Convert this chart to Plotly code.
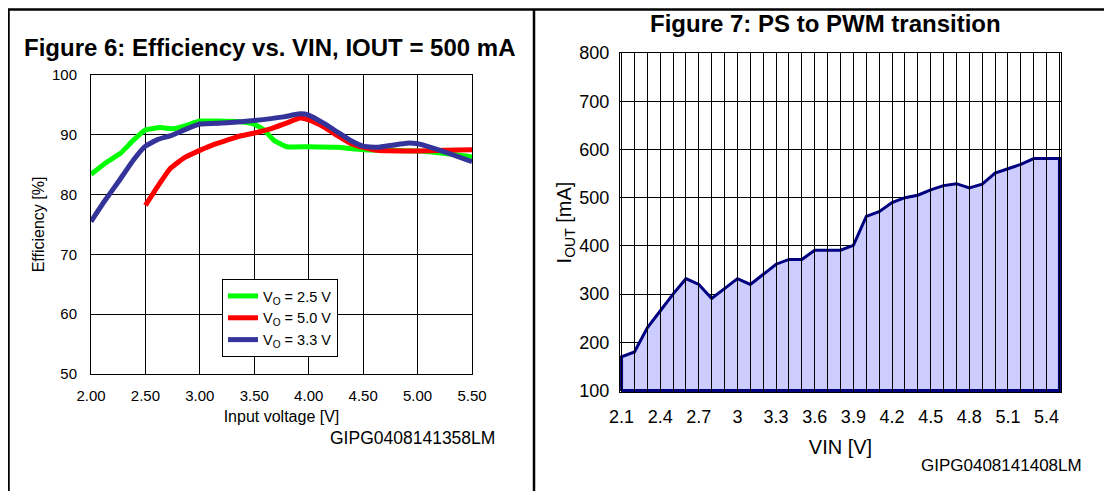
import plotly.graph_objects as go

# ---------------- Figure 6 data: Efficiency vs VIN ----------------
VIN_25 = [2.00, 2.15, 2.27, 2.39, 2.50, 2.64, 2.76, 2.88, 3.00, 3.16, 3.37, 3.50,
          3.59, 3.68, 3.80, 4.00, 4.26, 4.50, 4.78, 5.00, 5.24, 5.50]
EFF_25 = [83.4, 85.5, 86.9, 89.1, 90.8, 91.2, 91.0, 91.6, 92.3, 92.3, 92.2, 91.8,
          90.8, 89.1, 88.0, 88.0, 87.9, 87.5, 87.4, 87.3, 86.9, 86.3]

VIN_50 = [2.50, 2.61, 2.73, 2.87, 3.00, 3.13, 3.25, 3.37, 3.50, 3.65, 3.80, 3.92,
          4.00, 4.14, 4.26, 4.38, 4.50, 4.63, 5.00, 5.24, 5.50]
EFF_50 = [78.2, 81.3, 84.4, 86.3, 87.4, 88.4, 89.1, 89.8, 90.3, 91.0, 92.0, 92.8,
          92.5, 91.3, 89.9, 88.6, 87.9, 87.4, 87.3, 87.4, 87.5]

VIN_33 = [2.00, 2.12, 2.25, 2.39, 2.50, 2.61, 2.74, 2.88, 3.00, 3.25, 3.50, 3.77,
          3.92, 4.00, 4.14, 4.26, 4.38, 4.50, 4.63, 4.78, 4.90, 5.00, 5.12, 5.27, 5.50]
EFF_33 = [75.5, 78.8, 82.1, 85.8, 88.1, 89.2, 89.9, 91.0, 91.8, 92.0, 92.4, 93.0,
          93.5, 93.3, 91.9, 90.5, 89.1, 88.1, 87.9, 88.3, 88.6, 88.5, 87.9, 87.0, 85.5]

SERIES_NAMES = ["V<sub>O</sub> = 2.5 V", "V<sub>O</sub> = 5.0 V", "V<sub>O</sub> = 3.3 V"]
SERIES_COLORS = ["#00ff00", "#ff0000", "#333399"]

LEFT_X_TICKS = [2.0, 2.5, 3.0, 3.5, 4.0, 4.5, 5.0, 5.5]
LEFT_Y_TICKS = [50, 60, 70, 80, 90, 100]

# ---------------- Figure 7 data: PS to PWM transition ----------------
X_VIN = [2.1, 2.2, 2.3, 2.4, 2.5, 2.6, 2.7, 2.8, 2.9, 3.0, 3.1, 3.2, 3.3, 3.4, 3.5,
         3.6, 3.7, 3.8, 3.9, 4.0, 4.1, 4.2, 4.3, 4.4, 4.5, 4.6, 4.7, 4.8, 4.9, 5.0,
         5.1, 5.2, 5.3, 5.4, 5.5]
I_OUT = [170, 180, 230, 265, 300, 332, 320, 291, 311, 332, 320, 341, 362, 372, 372,
         391, 391, 391, 401, 461, 471, 490, 500, 505, 516, 525, 529, 520, 528, 551,
         560, 569, 581, 581, 581]
X_LABEL_TICKS = [2.1, 2.4, 2.7, 3.0, 3.3, 3.6, 3.9, 4.2, 4.5, 4.8, 5.1, 5.4]
X_LABEL_TEXT = ["2.1", "2.4", "2.7", "3", "3.3", "3.6", "3.9", "4.2", "4.5", "4.8", "5.1", "5.4"]
Y_BASE = 100
RIGHT_Y_TICKS = [100, 200, 300, 400, 500, 600, 700, 800]

FONT = "Liberation Sans, Arial, sans-serif"
W, H = 1112, 491
OFF = 8  # page offset of the figure inside the window


def px(x):
    return (x - OFF) / W


def py(y):
    return 1 - (y - OFF) / H


fig = go.Figure()

# left chart lines
for xs, ys, name, col in zip([VIN_25, VIN_50, VIN_33], [EFF_25, EFF_50, EFF_33],
                             SERIES_NAMES, SERIES_COLORS):
    fig.add_trace(go.Scatter(x=xs, y=ys, mode="lines", name=name,
                             line=dict(color=col, width=5, shape="spline", smoothing=0.4),
                             xaxis="x", yaxis="y"))

# right chart filled area (closed polygon down to the axis base)
poly_x = [X_VIN[0]] + X_VIN + [X_VIN[-1], X_VIN[0]]
poly_y = [Y_BASE] + I_OUT + [Y_BASE, Y_BASE]
fig.add_trace(go.Scatter(x=poly_x, y=poly_y, mode="lines", fill="toself",
                         fillcolor="#ccccff", line=dict(color="#000080", width=3),
                         showlegend=False, xaxis="x2", yaxis="y2"))

# domains (paper fractions)
L_X = [px(91), px(472)]
L_Y = [py(374), py(75)]
R_X = [px(620), px(1061)]
R_Y = [py(392), py(53)]
R_PLOT_H = 392 - 53

fig.update_layout(
    width=W, height=H,
    margin=dict(l=0, r=0, t=0, b=0, autoexpand=False),
    paper_bgcolor="white", plot_bgcolor="white",
    font=dict(family=FONT, color="black"),
    showlegend=True,
    legend=dict(x=px(222), y=py(279), xanchor="left", yanchor="top",
                bgcolor="white", bordercolor="black", borderwidth=1,
                font=dict(size=14.5, family=FONT), itemwidth=30,
                tracegroupgap=0),
    xaxis=dict(domain=L_X, range=[2.0, 5.5], tickvals=LEFT_X_TICKS,
               tickformat=".2f", showgrid=True, gridcolor="black", gridwidth=1,
               showline=True, linecolor="black", linewidth=1, mirror=True,
               zeroline=False, ticks="", tickfont=dict(size=15),
               ticklabelstandoff=8, automargin=False,
               title=dict(text="Input voltage [V]", font=dict(size=16), standoff=7),
               anchor="y"),
    yaxis=dict(domain=L_Y, range=[50, 100], tickvals=LEFT_Y_TICKS,
               showgrid=True, gridcolor="black", gridwidth=1,
               showline=True, linecolor="black", linewidth=1, mirror=True,
               zeroline=False, ticks="", tickfont=dict(size=15),
               ticklabelstandoff=10, automargin=False,
               title=dict(text="Efficiency [%]", font=dict(size=16), standoff=3),
               anchor="x"),
    xaxis2=dict(domain=R_X, range=[2.1 - 0.012, 5.5 + 0.012],
                tickvals=X_LABEL_TICKS, ticktext=X_LABEL_TEXT,
                showgrid=False, ticks="inside", ticklen=R_PLOT_H, tickwidth=1,
                tickcolor="black", layer="above traces",
                minor=dict(tickvals=X_VIN, ticks="inside", ticklen=R_PLOT_H,
                           tickwidth=1, tickcolor="black", showgrid=False),
                showline=True, linecolor="black", linewidth=1, mirror=True,
                zeroline=False, tickfont=dict(size=18), ticklabelstandoff=8,
                automargin=False,
                title=dict(text="VIN [V]", font=dict(size=20), standoff=14),
                anchor="y2"),
    yaxis2=dict(domain=R_Y, range=[Y_BASE - 3, 800], tickvals=RIGHT_Y_TICKS,
                showgrid=True, gridcolor="black", gridwidth=1,
                showline=True, linecolor="black", linewidth=1, mirror=True,
                zeroline=False, ticks="", tickfont=dict(size=18),
                ticklabelstandoff=6, automargin=False,
                title=dict(text="I<sub>OUT</sub> [mA]", font=dict(size=20), standoff=2),
                anchor="x2"),
)

fig.update_layout(annotations=[
    dict(text="<b>Figure 6: Efficiency vs. VIN, IOUT = 500 mA</b>", x=px(270), y=py(47),
         xref="paper", yref="paper", showarrow=False, font=dict(size=24, family=FONT),
         xanchor="center", yanchor="middle"),
    dict(text="<b>Figure 7: PS to PWM transition</b>", x=px(825), y=py(24),
         xref="paper", yref="paper", showarrow=False, font=dict(size=24, family=FONT),
         xanchor="center", yanchor="middle"),
    dict(text="GIPG0408141358LM", x=px(497), y=py(438), xref="paper", yref="paper",
         showarrow=False, font=dict(size=17.5, family=FONT), xanchor="right", yanchor="middle"),
    dict(text="GIPG0408141408LM", x=px(1084), y=py(465), xref="paper", yref="paper",
         showarrow=False, font=dict(size=17, family=FONT), xanchor="right", yanchor="middle"),
])

# panel frame lines
fig.update_layout(shapes=[
    dict(type="line", xref="paper", yref="paper", x0=0, x1=1, y0=py(9.5), y1=py(9.5),
         line=dict(color="black", width=2.5)),
    dict(type="line", xref="paper", yref="paper", x0=0, x1=0, y0=0, y1=py(9.5),
         line=dict(color="black", width=3.5)),
    dict(type="line", xref="paper", yref="paper", x0=px(534), x1=px(534), y0=0, y1=py(9.5),
         line=dict(color="black", width=2.5)),
])

fig.write_html("out.html")
